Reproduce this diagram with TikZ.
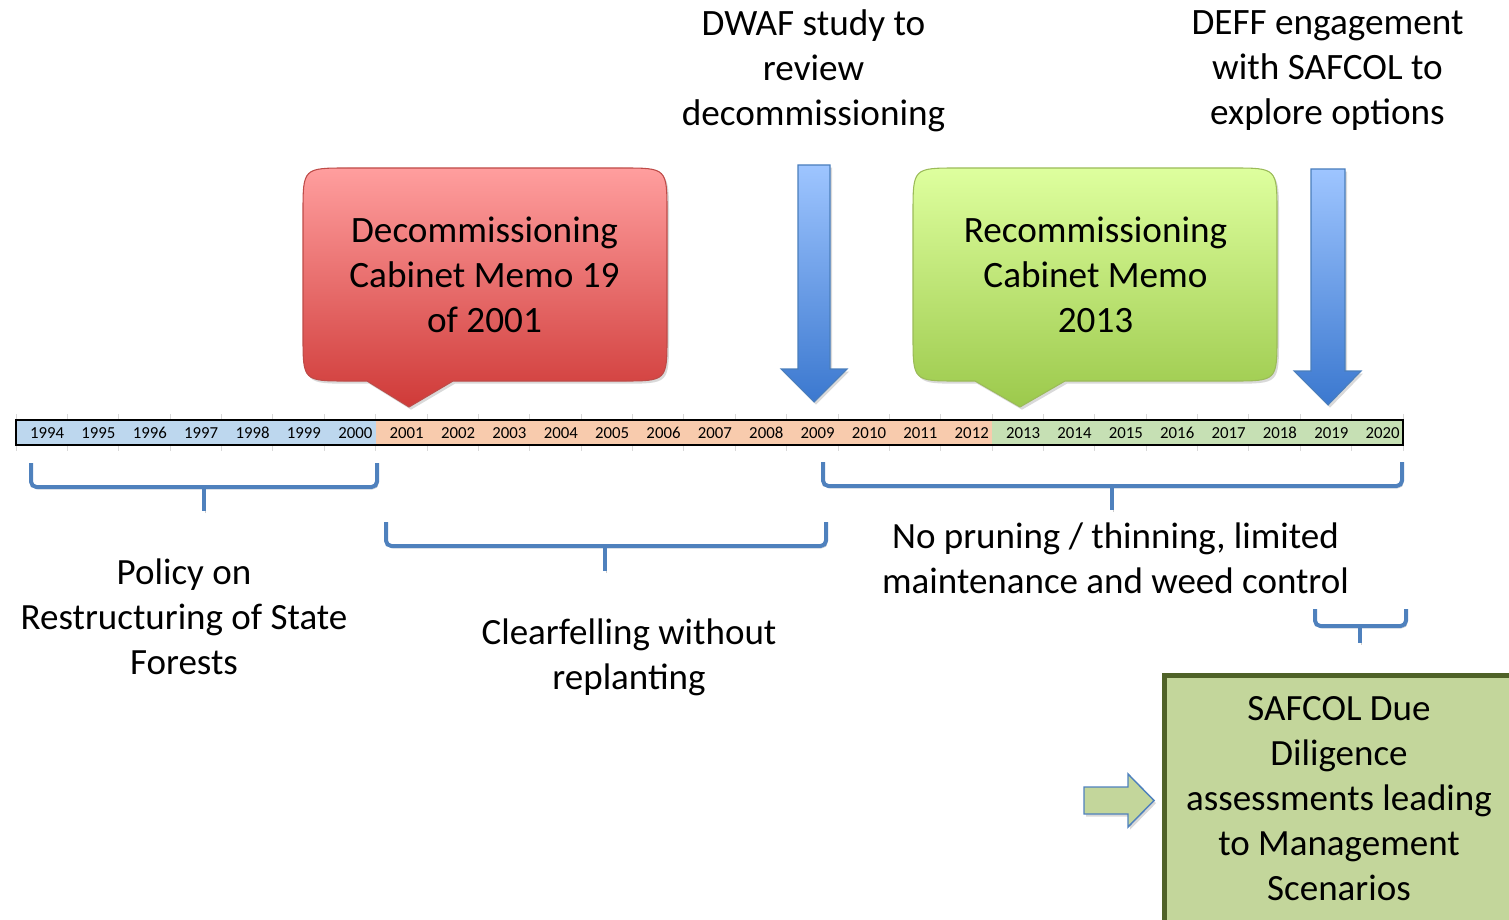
\documentclass[tikz,border=0pt]{standalone}
\usepackage{fontspec}
\setmainfont{Carlito}
\usetikzlibrary{shadows}

\definecolor{barBlue}{HTML}{BDD7EE}
\definecolor{barOrange}{HTML}{F8CBAD}
\definecolor{barGreen}{HTML}{C6E0B4}
\definecolor{braceBlue}{HTML}{4F81BD}
\definecolor{memoRedTop}{HTML}{FF9E9E}
\definecolor{memoRedBot}{HTML}{CF3A38}
\definecolor{memoRedLine}{HTML}{BE4B48}
\definecolor{memoGreenTop}{HTML}{DEFF9E}
\definecolor{memoGreenBot}{HTML}{9CC94C}
\definecolor{memoGreenLine}{HTML}{9BBB59}
\definecolor{pointerTop}{HTML}{9EC5FF}
\definecolor{pointerBot}{HTML}{3B78CF}
\definecolor{pointerLine}{HTML}{4A7EBB}
\definecolor{safcolFill}{HTML}{C3D69B}
\definecolor{safcolLine}{HTML}{4F6228}

\begin{document}
\begin{tikzpicture}[
        x=0.75pt,
        y=-0.75pt,
        softshadow/.style={
            drop shadow={
                shadow xshift=1.5pt,
                shadow yshift=-2pt,
                opacity=0.25,
                fill=black!60
            }
        },
        gridline/.style={
            draw=black!15,
            line width=0.6pt
        },
        yearlabel/.style={
            font=\fontsize{12.6}{15}\selectfont,
            anchor=base east,
            inner sep=0pt
        },
        bigtext/.style={
            font=\fontsize{27.9}{33.75}\selectfont,
            align=center,
            inner sep=0pt
        },
        notetext/.style={
            font=\fontsize{27.75}{33.75}\selectfont,
            align=center,
            inner sep=0pt
        },
        memored/.style={
            softshadow,
            top color=memoRedTop,
            bottom color=memoRedBot,
            draw=memoRedLine,
            line width=0.8pt
        },
        memogreen/.style={
            softshadow,
            top color=memoGreenTop,
            bottom color=memoGreenBot,
            draw=memoGreenLine,
            line width=0.8pt
        },
        downarrow/.style={
            softshadow,
            top color=pointerTop,
            bottom color=pointerBot,
            draw=pointerLine,
            line width=0.8pt
        },
        bracket/.style={
            draw=braceBlue,
            line width=3pt,
            rounded corners=4pt,
            preaction={
                draw=black!20,
                transform canvas={xshift=1pt, yshift=-1.5pt}
            }
        }
    ]

    \useasboundingbox (0,0) rectangle (1509,920);
    \clip (0,0) rectangle (1509,920);

    % --------------------------------------------------------
    % Timeline bar, 1994 to 2020
    % --------------------------------------------------------

    \def\cellw{51.37}

    \foreach \i in {0,...,27} {
        \draw[
            gridline
        ]
        ({16+\i*\cellw},414)
        -- ({16+\i*\cellw},451);
    }

    \fill[barBlue] (16,420) rectangle ({16+7*\cellw},445);
    \fill[barOrange] ({16+7*\cellw},420) rectangle ({16+19*\cellw},445);
    \fill[barGreen] ({16+19*\cellw},420) rectangle ({16+27*\cellw},445);

    \draw[
        black,
        line width=1.3pt
    ]
    (16,420) rectangle ({16+27*\cellw},445);

    \foreach \yr [count=\i] in {
        1994,1995,1996,1997,1998,1999,2000,
        2001,2002,2003,2004,2005,2006,2007,
        2008,2009,2010,2011,2012,2013,2014,
        2015,2016,2017,2018,2019,2020
    } {

        \node[
            yearlabel
        ]
        (y\yr)
        at ({16+\i*\cellw-3},438)
        {\yr};

    }

    % --------------------------------------------------------
    % Cabinet memo callouts
    % --------------------------------------------------------

    \path[
        memored
    ]
    (348,168) -- (622,168)
    .. controls (667,168) .. (667,213)
    -- (667,336)
    .. controls (667,381) .. (622,381)
    -- (453,381) -- (409,407) -- (367,381)
    -- (348,381)
    .. controls (303,381) .. (303,336)
    -- (303,213)
    .. controls (303,168) .. (348,168)
    -- cycle;

    \node[
        bigtext
    ]
    (decomtext)
    at (484.5,275)
    {Decommissioning\\Cabinet Memo 19\\of 2001};

    \path[
        memogreen
    ]
    (958,168) -- (1232,168)
    .. controls (1277,168) .. (1277,213)
    -- (1277,336)
    .. controls (1277,381) .. (1232,381)
    -- (1065,381) -- (1020,407) -- (975,381)
    -- (958,381)
    .. controls (913,381) .. (913,336)
    -- (913,213)
    .. controls (913,168) .. (958,168)
    -- cycle;

    \node[
        bigtext
    ]
    (recomtext)
    at (1095.5,275)
    {Recommissioning\\Cabinet Memo\\2013};

    % --------------------------------------------------------
    % Study and engagement pointers
    % --------------------------------------------------------

    \path[
        downarrow
    ]
    (798,165) -- (830,165) -- (830,369) -- (847,369)
    -- (814,402) -- (781,369) -- (798,369) -- cycle;

    \path[
        downarrow
    ]
    (1311,169) -- (1345,169) -- (1345,371) -- (1361,371)
    -- (1328,405) -- (1294,371) -- (1311,371) -- cycle;

    \node[
        bigtext
    ]
    (dwafnote)
    at (813.5,71)
    {DWAF study to\\review\\decommissioning};

    \node[
        bigtext
    ]
    (deffnote)
    at (1327.5,71)
    {DEFF engagement\\with SAFCOL to\\explore options};

    % --------------------------------------------------------
    % Period brackets
    % --------------------------------------------------------

    \foreach \xl/\xr/\yt/\yh/\xm/\yb in {
        31/377/463/487/204/511,
        386/826/522/546/605/571,
        823/1402/462/486/1112/510,
        1315/1406/609/626/1360/643
    } {

        \draw[
            bracket
        ]
        (\xl,\yt) -- (\xl,\yh) -- (\xr,\yh) -- (\xr,\yt);

        \draw[
            bracket
        ]
        (\xm,\yh) -- (\xm,\yb);

    }

    \node[
        notetext
    ]
    (policynote)
    at (184,617)
    {Policy on\\Restructuring of State\\Forests};

    \node[
        notetext
    ]
    (clearnote)
    at (629,657.5)
    {Clearfelling without\\replanting};

    \node[
        notetext
    ]
    (pruningnote)
    at (1115.5,558.5)
    {No pruning / thinning, limited\\maintenance and weed control};

    % --------------------------------------------------------
    % Due diligence box
    % --------------------------------------------------------

    \draw[
        fill=safcolFill,
        draw=safcolLine,
        line width=3.6pt
    ]
    (1164.5,675.5) rectangle (1540,960);

    \node[
        notetext
    ]
    (safcolnote)
    at (1339,799)
    {SAFCOL Due\\Diligence\\assessments leading\\to Management\\Scenarios};

    \path[
        softshadow,
        fill=safcolFill,
        draw=braceBlue,
        line width=1.1pt
    ]
    (1084,787) -- (1128,787) -- (1128,774) -- (1154,800.5)
    -- (1128,827) -- (1128,814) -- (1084,814) -- cycle;

\end{tikzpicture}
\end{document}
